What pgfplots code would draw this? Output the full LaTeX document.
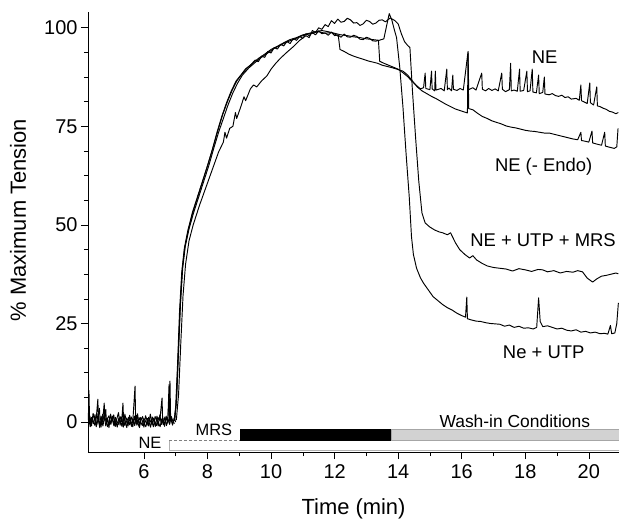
\documentclass[border=0pt]{standalone}
\usepackage{fontspec}
\setmainfont{Liberation Sans}
\usepackage{pgfplots}
\pgfplotsset{compat=1.18}

\pgfplotsset{
  trace/.style={black, line width=0.95pt, line join=round},
}

\begin{document}
\begin{tikzpicture}
\path[use as bounding box] (-88bp,-69bp) rectangle (531bp,452bp);
\begin{axis}[
  at={(0,0)}, anchor=south west,
  scale only axis,
  width=531bp, height=440bp,
  xmin=4.24, xmax=20.95,
  ymin=-7.6, ymax=104,
  axis x line*=bottom, axis y line*=left,
  axis line style={line width=0.6pt},
  xtick={6,8,...,20}, ytick={0,25,50,75,100},
  minor x tick num=1, minor y tick num=3,
  tick align=outside,
  major tick length=7bp, minor tick length=4bp,
  tick style={line width=0.6pt, black},
  tick label style={font=\fontsize{20}{24}\selectfont},
  /pgf/number format/assume math mode=true,
  xticklabel style={yshift=-2bp},
  clip=false,
]
% baseline noise before the rise
\addplot[trace] coordinates {
(4.25,0.5) (4.27,8.0) (4.29,0.2) (4.32,-0.6) (4.35,1.2) (4.40,0.3) (4.45,-0.8) (4.50,1.0)
(4.55,5.8) (4.57,0.4) (4.60,-0.5) (4.65,1.5) (4.70,0.0) (4.75,4.8) (4.77,0.6) (4.80,-1.0)
(4.85,0.8) (4.90,1.6) (4.95,-0.4) (5.00,0.9) (5.05,-0.8) (5.10,1.2) (5.15,0.2) (5.20,-0.6)
(5.25,1.4) (5.30,0.0) (5.34,4.8) (5.36,0.3) (5.40,-0.9) (5.45,1.0) (5.50,0.4) (5.55,-0.7)
(5.60,1.3) (5.65,0.1) (5.72,9.1) (5.74,0.5) (5.78,-0.8) (5.85,1.1) (5.90,0.0) (5.95,-0.9)
(6.00,0.9) (6.05,0.2) (6.10,-0.8) (6.15,1.2) (6.20,0.3) (6.25,-0.6) (6.30,1.0) (6.35,0.0)
(6.40,-0.9) (6.45,1.1) (6.50,0.4) (6.57,6.1) (6.59,0.2) (6.65,-0.7) (6.70,1.0) (6.75,0.3)
(6.82,10.4) (6.84,0.8) (6.90,-0.5) (6.95,0.5)
};
\addplot[trace] coordinates {
(4.25,-0.3) (4.30,1.5) (4.35,-1.0) (4.40,2.2) (4.45,0.5) (4.50,-1.2) (4.55,1.8) (4.60,3.5)
(4.62,0.0) (4.65,-1.3) (4.70,2.0) (4.75,0.4) (4.80,3.2) (4.82,-0.5) (4.85,1.0) (4.90,-1.4)
(4.95,2.0) (5.00,0.2) (5.05,1.8) (5.10,-1.1) (5.15,0.9) (5.20,2.4) (5.25,-0.8) (5.30,1.3)
(5.35,-1.3) (5.40,2.0) (5.45,0.1) (5.50,-1.0) (5.55,1.7) (5.60,0.0) (5.65,-1.2) (5.70,1.5)
(5.75,-0.4) (5.80,2.1) (5.85,-1.0) (5.90,1.2) (5.95,0.3) (6.00,-1.3) (6.05,1.6) (6.10,0.4)
(6.15,-1.0) (6.20,2.0) (6.25,0.0) (6.30,-1.2) (6.35,1.4) (6.40,0.5) (6.45,-1.0) (6.50,1.8)
(6.55,-0.6) (6.60,1.0) (6.65,-1.1) (6.70,1.5) (6.75,-0.3) (6.79,9.5) (6.81,0.2) (6.85,1.2)
(6.90,-0.8) (6.95,1.0) (7.00,0.0)
};
\addplot[trace] coordinates {
(4.26,1.0) (4.31,-1.2) (4.36,0.6) (4.41,-0.4) (4.46,1.9) (4.51,-0.9) (4.56,0.8) (4.61,-1.4)
(4.66,0.9) (4.71,-1.0) (4.76,1.4) (4.81,0.1) (4.86,-1.2) (4.91,0.7) (4.96,-0.6) (5.01,1.5)
(5.06,-1.0) (5.11,0.4) (5.16,-1.3) (5.21,1.0) (5.26,0.2) (5.31,-1.1) (5.36,1.6) (5.41,0.0)
(5.46,-1.4) (5.51,1.2) (5.56,0.2) (5.61,-1.1) (5.66,0.8) (5.71,-0.9) (5.76,1.7) (5.81,-0.3)
(5.86,-1.4) (5.91,0.6) (5.96,1.4) (6.01,-0.5) (6.06,-1.2) (6.11,0.9) (6.16,0.0) (6.21,-1.3)
(6.26,1.3) (6.31,0.2) (6.36,-1.1) (6.41,1.5) (6.46,-0.2) (6.51,-1.2) (6.56,0.8) (6.61,-0.7)
(6.66,1.3) (6.71,-0.9) (6.76,0.7) (6.81,-0.6) (6.86,1.4) (6.91,0.2) (6.96,-0.4)
};
% NE
\addplot[trace] coordinates {
(6.95,0.3) (7.00,4) (7.06,15) (7.12,28) (7.19,38) (7.27,44) (7.38,48.5) (7.52,53) (7.68,57)
(7.84,61) (8.00,65) (8.15,69) (8.30,73.5) (8.45,77.5) (8.60,81) (8.75,84) (8.90,86.5)
(9.05,88) (9.20,89.6) (9.35,90.5) (9.50,91.8) (9.60,91.4) (9.70,92.8) (9.80,92.5) (9.90,94)
(10.00,93.6) (10.10,95) (10.20,94.6) (10.30,95.8) (10.40,95.4) (10.50,96.5) (10.60,96.0)
(10.70,97.3) (10.80,96.8) (10.90,97.8) (11.00,97.3) (11.10,98.5) (11.20,98.0) (11.30,98.8)
(11.40,98.2) (11.50,99.2) (11.60,98.5) (11.70,98.7) (11.80,98.1) (11.90,98.9) (12.00,98.0)
(12.10,98.2) (12.20,97.6) (12.30,98.4) (12.40,97.7) (12.50,97.6) (12.60,98.1) (12.70,97.8)
(12.80,97.1) (12.90,97.0) (13.00,97.6) (13.10,97.3) (13.20,96.7) (13.30,96.6)
(13.38,96.8) (13.42,91.5) (13.55,91.0) (13.70,90.5) (13.85,90.0) (14.00,89.5)
(14.15,88.6) (14.30,87.6) (14.45,86.3) (14.60,85.2) (14.70,84.5) (14.80,84.8) (14.85,88.5)
(14.87,84.6) (15.00,84.3) (15.05,89) (15.07,84.5) (15.15,84.0) (15.17,89) (15.19,84.2)
(15.35,84.6) (15.45,84.0) (15.53,89.5) (15.55,84.3) (15.60,84.7) (15.68,84.0) (15.72,88)
(15.74,84.4) (15.85,84.1) (15.95,84.6) (16.05,84.2) (16.20,94) (16.22,84.3) (16.35,84.8)
(16.45,84.2) (16.63,88.5) (16.65,84.4) (16.75,84.0) (16.85,84.6) (16.95,84.1) (17.05,84.5)
(17.15,84.0) (17.26,88.5) (17.28,84.4) (17.38,83.8) (17.50,84.3) (17.54,91) (17.56,84.0)
(17.65,84.2) (17.75,83.9) (17.82,89.5) (17.84,83.9) (17.95,84.1) (18.05,89) (18.07,83.8)
(18.15,84.0) (18.22,89.5) (18.24,83.7) (18.35,83.5) (18.42,88) (18.44,83.3) (18.55,83.6)
(18.60,87.5) (18.62,83.2) (18.75,83.0) (18.85,83.3) (18.95,82.8) (19.05,82.6) (19.15,82.9)
(19.25,82.3) (19.35,82.5) (19.45,81.9) (19.60,82.1) (19.70,81.6) (19.75,85.5) (19.77,81.5)
(19.85,81.2) (19.95,80.8) (20.03,86) (20.05,81.0) (20.15,80.4) (20.25,85) (20.27,80.2)
(20.35,80.0) (20.45,79.6) (20.55,79.3) (20.65,78.8) (20.75,78.6) (20.85,78.2) (20.93,78.5)
};
% NE (- Endo)
\addplot[trace] coordinates {
(6.97,0.3) (7.03,6) (7.09,18) (7.15,30) (7.22,39) (7.30,44.5) (7.42,49) (7.56,53) (7.72,57)
(7.88,61) (8.04,65) (8.20,69.5) (8.35,73.5) (8.50,77) (8.65,80.5) (8.80,83.5) (8.95,86)
(9.10,88) (9.30,89.8) (9.50,91.2) (9.70,92.5) (9.90,93.6) (10.10,94.8) (10.30,95.6)
(10.50,96.4) (10.70,97.0) (10.90,97.7) (11.10,98.3) (11.30,98.6) (11.50,99.0) (11.70,98.6)
(11.90,98.8) (12.05,98.2) (12.12,97.8) (12.17,94.5) (12.30,94.0) (12.45,93.3) (12.60,92.8)
(12.75,92.4) (12.90,92.0) (13.05,91.6) (13.20,91.3) (13.35,91.0) (13.50,90.5) (13.65,90.2)
(13.80,89.9) (14.00,89.4) (14.15,89.0) (14.30,88.0) (14.45,86.5) (14.60,85.0) (14.75,84.0)
(14.90,83.3) (15.05,82.6) (15.20,82.0) (15.35,81.3) (15.50,80.6) (15.65,80.0) (15.80,79.4)
(15.95,79.0) (16.10,78.6) (16.18,78.4) (16.20,93.5) (16.22,79.5) (16.35,79.2) (16.50,78.3)
(16.65,77.5) (16.80,77.0) (16.95,76.4) (17.10,76.0) (17.25,75.6) (17.40,75.1) (17.55,74.8)
(17.70,74.6) (17.85,74.3) (18.00,74.0) (18.15,73.8) (18.30,73.7) (18.45,73.5) (18.60,73.3)
(18.75,73.3) (18.90,73.0) (19.05,72.7) (19.20,72.4) (19.35,72.1) (19.50,71.8) (19.65,71.6)
(19.75,73.5) (19.77,71.4) (19.90,71.2) (20.00,71.0) (20.10,73.8) (20.12,70.8) (20.25,70.5)
(20.40,70.2) (20.50,73.5) (20.52,70.0) (20.65,69.7) (20.80,69.4) (20.88,69.8) (20.92,74.5)
};
% Ne + UTP
\addplot[trace] coordinates {
(6.96,0.4) (7.02,5) (7.08,17) (7.14,29) (7.21,39) (7.29,44.5) (7.40,48.8) (7.54,53.2)
(7.70,57.3) (7.86,61.3) (8.02,65.5) (8.18,69.8) (8.33,74) (8.48,78) (8.63,81.3) (8.78,84.2)
(8.93,86.6) (9.08,88.2) (9.25,89.8) (9.42,91.0) (9.60,92.2) (9.80,93.3) (10.00,94.5)
(10.20,95.3) (10.40,96.2) (10.60,97.0) (10.80,97.5) (11.00,98.2) (11.20,98.6) (11.40,99.0)
(11.60,99.3) (11.80,99.0) (12.00,98.6) (12.20,98.2) (12.40,98.0) (12.60,97.7) (12.80,97.5)
(13.00,97.2) (13.20,97.0) (13.40,96.8) (13.55,97.2) (13.65,101) (13.72,103.6) (13.80,102)
(13.88,99.5) (13.95,97.5) (14.05,90) (14.15,80) (14.25,68) (14.35,57) (14.42,47) (14.48,42.5)
(14.58,39) (14.70,36.6) (14.80,35.2) (14.95,33.5) (15.10,31.8) (15.25,30.8) (15.40,29.8)
(15.55,29.0) (15.70,28.4) (15.85,27.6) (16.00,27.0) (16.12,26.6) (16.16,31.7) (16.18,26.2)
(16.30,25.9) (16.45,25.6) (16.60,25.5) (16.75,25.2) (16.90,25.0) (17.05,24.9) (17.20,24.8)
(17.35,24.3) (17.50,24.6) (17.65,24.0) (17.80,24.3) (17.95,23.8) (18.10,23.9) (18.25,23.6)
(18.36,24.0) (18.42,31.5) (18.47,25.5) (18.55,24.2) (18.70,24.4) (18.85,24.0) (19.00,23.6)
(19.15,23.8) (19.30,23.3) (19.45,23.1) (19.60,23.4) (19.75,22.8) (19.90,23.0) (20.05,22.6)
(20.20,22.8) (20.35,22.4) (20.50,22.5) (20.60,22.3) (20.68,24.5) (20.72,22.4) (20.82,22.6)
(20.88,25) (20.93,30.2)
};
% NE + UTP + MRS
\addplot[trace] coordinates {
(7.02,0.5) (7.09,7) (7.16,20) (7.23,32) (7.31,40) (7.42,46) (7.55,50) (7.75,55) (7.95,59.5)
(8.15,64) (8.35,68.5) (8.50,71.0) (8.55,73.5) (8.60,72.0) (8.70,74.5) (8.80,75.0) (8.88,78.5)
(8.92,77.0) (9.05,80) (9.15,82.5) (9.20,81.5) (9.35,84.5) (9.45,85.5) (9.55,85.0) (9.70,86.5)
(9.87,87.8) (10.00,89.5) (10.15,91.0) (10.30,92.3) (10.50,93.8) (10.70,95.2) (10.90,96.8)
(11.10,98.0) (11.20,97.5) (11.30,99.3) (11.40,98.8) (11.50,100.0) (11.60,99.6) (11.70,100.8)
(11.80,100.3) (11.90,101.8) (12.00,101.1) (12.10,102.2) (12.20,101.4) (12.30,101.6)
(12.40,102.4) (12.50,102.0) (12.60,101.2) (12.70,101.3) (12.80,100.6) (12.90,101.0)
(13.00,101.9) (13.10,101.6) (13.20,100.9) (13.30,101.2) (13.40,101.9) (13.50,102.0)
(13.60,101.5) (13.75,102.5) (13.90,101.8) (14.00,101.0) (14.10,98.5)
(14.20,96.5) (14.30,95.5) (14.37,95.0) (14.45,84) (14.55,72) (14.65,61) (14.75,53)
(14.85,50.5) (14.99,49.5) (15.15,48.7) (15.30,48.2) (15.40,48.0) (15.55,47.5) (15.65,48.0)
(15.80,45.5) (15.94,43.7) (16.10,42.5) (16.25,41.6) (16.35,42.2) (16.47,41.1) (16.63,40.3)
(16.80,39.6) (17.00,39.2) (17.20,39.0) (17.40,38.8) (17.60,38.3) (17.80,38.9) (18.00,38.6)
(18.20,38.2) (18.40,38.7) (18.55,38.6) (18.70,38.1) (18.90,38.4) (19.10,37.8) (19.30,38.2)
(19.50,38.0) (19.65,38.4) (19.80,38.1) (19.95,36.5) (20.12,35.5) (20.25,36.3) (20.40,37.0)
(20.55,37.2) (20.70,37.5) (20.85,37.8) (20.93,37.6)
};
% protocol bars
\addplot[gray!60, line width=1pt] coordinates {(6.79,-4.6) (6.79,-7.2) (20.95,-7.2)};
\addplot[gray, densely dashed, line width=0.5pt] coordinates {(6.79,-4.6) (9.02,-4.6)};
\addplot[draw=black, fill=black] coordinates {(9.02,-1.8) (13.77,-1.8) (13.77,-4.6) (9.02,-4.6)} --cycle;
\addplot[draw=gray!70, fill=gray!35] coordinates {(13.77,-1.8) (20.95,-1.8) (20.95,-4.6) (13.77,-4.6)} --cycle;
% labels
\node[font=\fontsize{18.5}{22}\selectfont] at (axis cs:18.61,92.6) {NE};
\node[font=\fontsize{18.5}{22}\selectfont] at (axis cs:18.58,64.7) {NE (- Endo)};
\node[font=\fontsize{18.5}{22}\selectfont] at (axis cs:18.56,46.2) {NE + UTP + MRS};
\node[font=\fontsize{18.5}{22}\selectfont] at (axis cs:18.58,17.8) {Ne + UTP};
\node[font=\fontsize{16.5}{20}\selectfont] at (axis cs:6.19,-5.3) {NE};
\node[font=\fontsize{16.5}{20}\selectfont] at (axis cs:8.2,-2.0) {MRS};
\node[font=\fontsize{17.5}{21}\selectfont] at (axis cs:17.67,0.2) {Wash-in Conditions};
\node[font=\fontsize{22}{26}\selectfont, rotate=90] at ([xshift=-70bp]rel axis cs:0,0.527) {\% Maximum Tension};
\node[font=\fontsize{22}{26}\selectfont] at ([yshift=-57bp]rel axis cs:0.5,0) {Time (min)};
\end{axis}
\end{tikzpicture}
\end{document}
